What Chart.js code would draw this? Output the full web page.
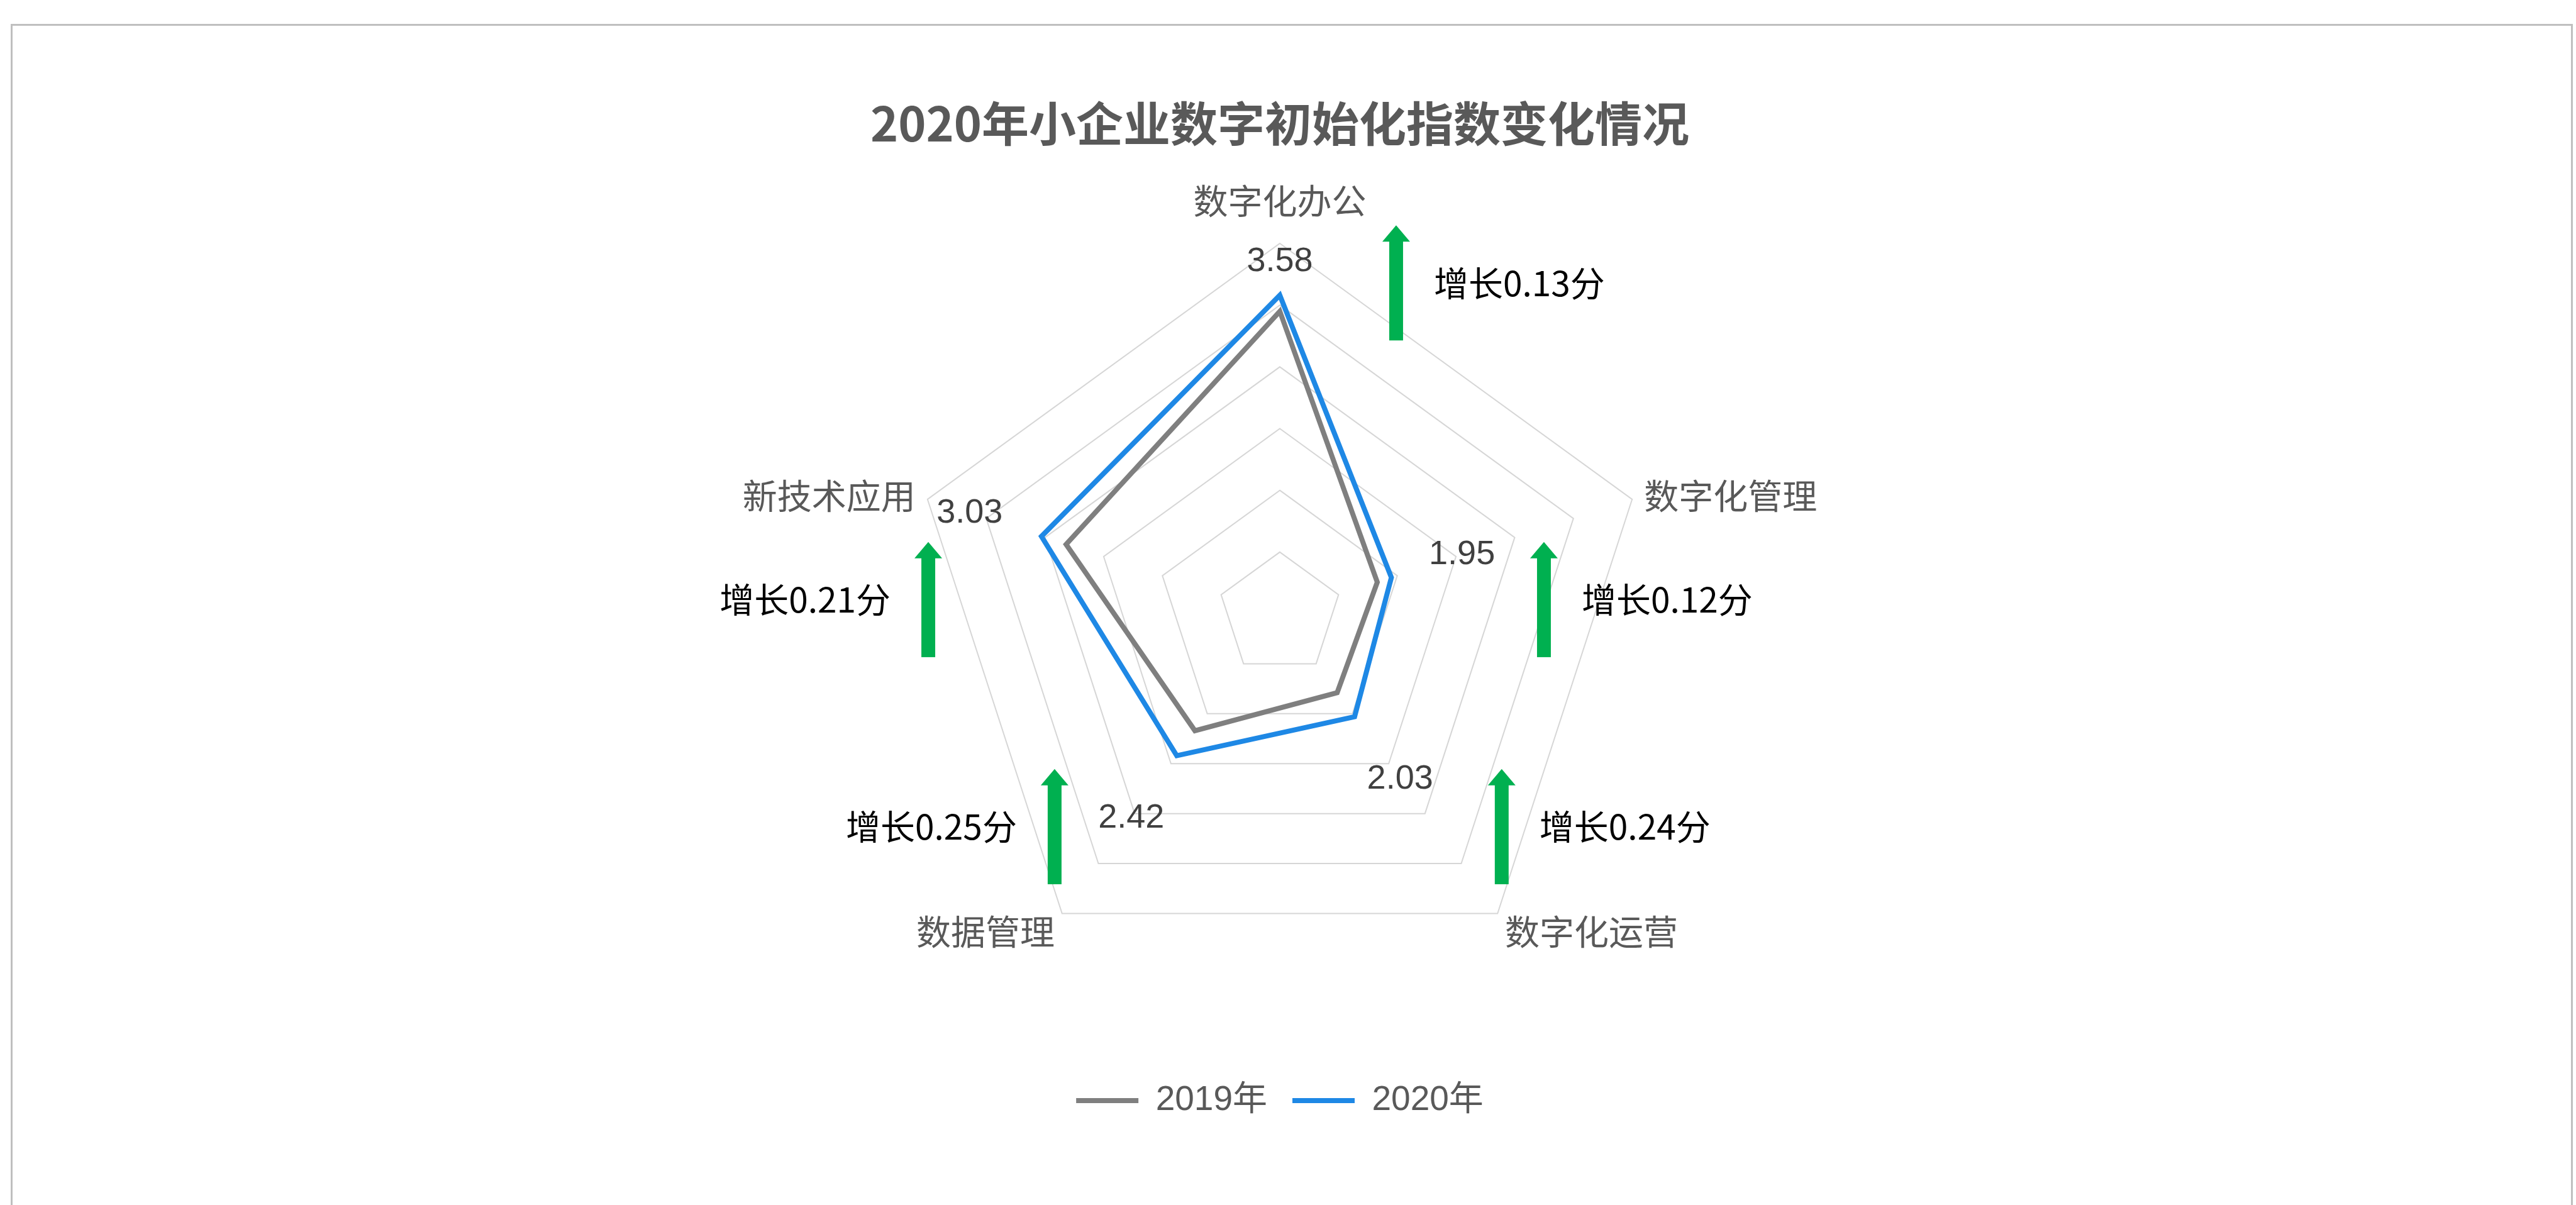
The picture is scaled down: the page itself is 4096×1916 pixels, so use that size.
<!DOCTYPE html>
<html>
<head>
<meta charset="utf-8">
<script src="https://cdn.jsdelivr.net/npm/chart.js@4"></script>
<style>
  html, body { margin: 0; padding: 0; background: #fff; overflow: hidden; }
  #wrap { width: 4096px; height: 1916px; position: relative; }
</style>
</head>
<body>
<div id="wrap"><canvas id="radar"></canvas></div>
<script>
'use strict';

var chartTitle = '2020年小企业数字初始化指数变化情况';
var categories = ['数字化办公', '数字化管理', '数字化运营', '数据管理', '新技术应用'];
var values2019 = [3.45, 1.83, 1.79, 2.17, 2.82];
var values2020 = [3.58, 1.95, 2.03, 2.42, 3.03];
var seriesNames = ['2019年', '2020年'];
var scaleMin = 1;
var scaleMax = 4;
var scaleStep = 0.5;

// where the green arrows sit, in units of the radar radius from its centre
var arrowSpots = [[0.314, -1.049], [0.713, -0.194], [0.599, 0.419], [-0.608, 0.419], [-0.949, -0.194]];
var valueLabelGap = [53, 118, 123, 123, 120];

var cjk = '"Noto Sans CJK SC", sans-serif';
var latin = '"Liberation Sans", "Noto Sans CJK SC", sans-serif';
Chart.defaults.font.family = cjk;

var overlay = {
  id: 'overlay',
  beforeDraw: function (chart) {
    var ctx = chart.ctx;
    ctx.save();
    ctx.fillStyle = '#fff';
    ctx.fillRect(0, 0, chart.width, chart.height);
    ctx.strokeStyle = '#bfbfbf';
    ctx.lineWidth = 3;
    ctx.strokeRect(18.5, 39.5, chart.width - 25, chart.height + 20);
    ctx.restore();
  },
  afterDraw: function (chart) {
    var ctx = chart.ctx;
    var r = chart.scales.r;
    var R = r.drawingArea, cx = r.xCenter, cy = r.yCenter;
    ctx.save();
    ctx.textBaseline = 'middle';

    // title
    ctx.fillStyle = '#595959';
    ctx.textAlign = 'center';
    ctx.font = 'bold 75px ' + cjk;
    ctx.fillText(chartTitle, cx, 196);

    // category labels
    ctx.font = '55px ' + cjk;
    categories.forEach(function (c, i) {
      var p = r.getPointPosition(i, R + (i === 0 ? 68 : 20));
      var dx = p.x - cx, dy = p.y - cy;
      ctx.textAlign = Math.abs(dx) < 1 ? 'center' : (dx > 0 ? 'left' : 'right');
      ctx.fillText(c, p.x, p.y + (dy > 0 ? 12 : 0));
    });

    // 2020 value labels
    ctx.fillStyle = '#404040';
    ctx.textAlign = 'center';
    ctx.font = '54px ' + latin;
    values2020.forEach(function (v, i) {
      var p = r.getPointPositionForValue(i, v);
      var d = valueLabelGap[i];
      ctx.fillText(v.toFixed(2), p.x + Math.cos(p.angle) * d, p.y + Math.sin(p.angle) * d);
    });

    // growth arrows
    ctx.font = '55px ' + cjk;
    arrowSpots.forEach(function (s, i) {
      var x = cx + s[0] * R;
      var tip = cy + s[1] * R;
      var base = tip + 0.311 * R;
      var head = 26;
      ctx.fillStyle = '#00b050';
      ctx.fillRect(x - 11, tip + head - 1, 22, base - tip - head + 1);
      ctx.beginPath();
      ctx.moveTo(x, tip);
      ctx.lineTo(x + 22, tip + head);
      ctx.lineTo(x - 22, tip + head);
      ctx.closePath();
      ctx.fill();

      var txt = '增长' + (values2020[i] - values2019[i]).toFixed(2) + '分';
      ctx.fillStyle = '#000';
      ctx.textAlign = s[0] > 0 ? 'left' : 'right';
      ctx.fillText(txt, x + (s[0] > 0 ? 60 : -60), (tip + base) / 2);
    });
    ctx.restore();
  }
};

var ctx = document.getElementById('radar').getContext('2d');
new Chart(ctx, {
  type: 'radar',
  data: {
    labels: categories,
    datasets: [
      {
        label: seriesNames[0],
        data: values2019,
        borderColor: '#7f7f7f',
        backgroundColor: '#7f7f7f',
        borderWidth: 8,
        fill: false,
        pointRadius: 0,
        pointHoverRadius: 0
      },
      {
        label: seriesNames[1],
        data: values2020,
        borderColor: '#1e88e5',
        backgroundColor: '#1e88e5',
        borderWidth: 8,
        fill: false,
        pointRadius: 0,
        pointHoverRadius: 0
      }
    ]
  },
  options: {
    responsive: true,
    maintainAspectRatio: false,
    animation: false,
    layout: {
      padding: { left: 1446, right: 1472, top: 269.5, bottom: 128.5 }
    },
    scales: {
      r: {
        min: scaleMin,
        max: scaleMax,
        ticks: { display: false, stepSize: scaleStep },
        grid: { color: '#d6d6d6', lineWidth: 2 },
        angleLines: { display: false },
        pointLabels: { display: false }
      }
    },
    plugins: {
      title: { display: false },
      tooltip: { enabled: false },
      legend: {
        display: true,
        position: 'bottom',
        labels: {
          boxWidth: 99,
          boxHeight: 8,
          padding: 40,
          color: '#595959',
          font: { size: 55, family: latin },
          generateLabels: function (chart) {
            return Chart.defaults.plugins.legend.labels.generateLabels(chart).map(function (l) {
              l.lineWidth = 0;
              return l;
            });
          }
        }
      }
    }
  },
  plugins: [overlay]
});
</script>
</body>
</html>
